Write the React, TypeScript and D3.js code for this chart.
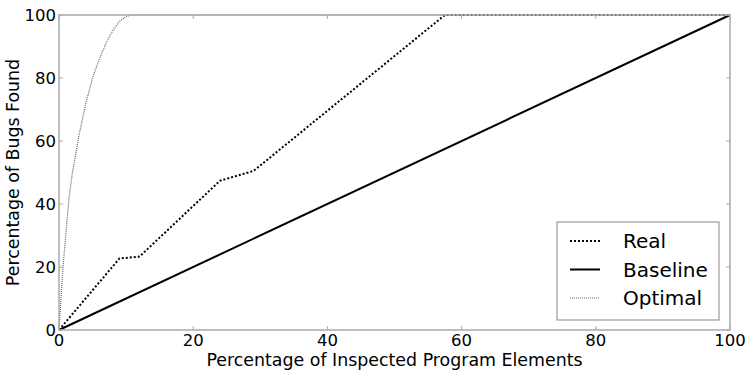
import React from "react";
import * as d3 from "d3";

const realX = [0, 9, 12, 24, 29, 57.5, 100];
const realY = [0, 22.7, 23.3, 47.4, 50.5, 100, 100];
const baselineX = [0, 100];
const baselineY = [0, 100];
const optimalX = [0, 0.3, 0.6, 1, 1.5, 2, 3, 4, 5, 6, 7, 8, 9, 10, 10.7, 100];
const optimalY = [0, 10, 20, 30, 42, 50, 62, 72, 80, 86, 91, 95, 98, 99.5, 100, 100];
const xTicks = [0, 20, 40, 60, 80, 100];
const yTicks = [0, 20, 40, 60, 80, 100];
const legendLabels = ["Real", "Baseline", "Optimal"];

const W = 747, H = 375;
const L = 59, R = 730, T = 15, B = 330;
const FONT = "DejaVu Sans";

export default function App() {
  const x = d3.scaleLinear().domain([0, 100]).range([L, R]);
  const y = d3.scaleLinear().domain([0, 100]).range([B, T]);
  const line = d3.line<[number, number]>().x(d => x(d[0])).y(d => y(d[1]));
  const zip = (a: number[], b: number[]) => a.map((v, i) => [v, b[i]] as [number, number]);
  const styles = [
    { stroke: "#000", width: 2, dash: "2,2" },
    { stroke: "#000", width: 2, dash: "" },
    { stroke: "#666", width: 1.2, dash: "1,1" },
  ];
  const spine = "#aaa";
  return (
    <svg width={W} height={H} style={{ position: "absolute", left: 0, top: 0 }} fontFamily={FONT}>
      <rect x={0} y={0} width={W} height={H} fill="#fff" />
      <path d={line(zip(optimalX, optimalY)) || ""} fill="none" stroke={styles[2].stroke} strokeWidth={styles[2].width} strokeDasharray={styles[2].dash} />
      <path d={line(zip(baselineX, baselineY)) || ""} fill="none" stroke={styles[1].stroke} strokeWidth={styles[1].width} />
      <path d={line(zip(realX, realY)) || ""} fill="none" stroke={styles[0].stroke} strokeWidth={styles[0].width} strokeDasharray={styles[0].dash} />
      <rect x={L} y={T} width={R - L} height={B - T} fill="none" stroke={spine} strokeWidth={1.5} />
      {xTicks.map(t => (
        <g key={"x" + t}>
          <line x1={x(t)} x2={x(t)} y1={B} y2={B - 4} stroke={spine} />
          <line x1={x(t)} x2={x(t)} y1={T} y2={T + 4} stroke={spine} />
          <text x={x(t)} y={346} fontSize={16.5} textAnchor="middle">{t}</text>
        </g>
      ))}
      {yTicks.map(t => (
        <g key={"y" + t}>
          <line x1={L} x2={L + 4} y1={y(t)} y2={y(t)} stroke={spine} />
          <line x1={R} x2={R - 4} y1={y(t)} y2={y(t)} stroke={spine} />
          <text x={56} y={y(t)} dy="0.36em" fontSize={16.5} textAnchor="end">{t}</text>
        </g>
      ))}
      <text x={(L + R) / 2} y={366} fontSize={17.4} textAnchor="middle">Percentage of Inspected Program Elements</text>
      <text transform={`translate(19,${(T + B) / 2}) rotate(-90)`} fontSize={17.4} textAnchor="middle">Percentage of Bugs Found</text>
      <rect x={557} y={222} width={162} height={98} fill="#fff" stroke="#888" strokeWidth={1} />
      {legendLabels.map((lab, i) => {
        const ly = 241 + i * 28.5;
        const s = styles[i];
        return (
          <g key={lab}>
            <line x1={570} x2={600} y1={ly} y2={ly} stroke={s.stroke} strokeWidth={s.width} strokeDasharray={s.dash} />
            <text x={623} y={ly} dy="0.36em" fontSize={20}>{lab}</text>
          </g>
        );
      })}
    </svg>
  );
}
